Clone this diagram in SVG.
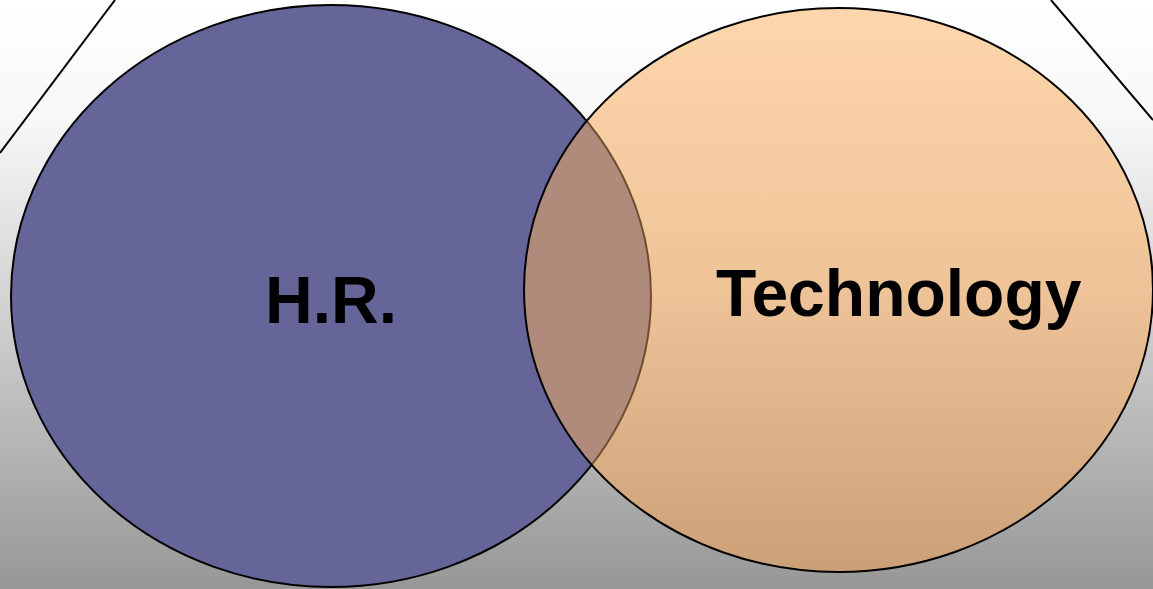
<svg xmlns="http://www.w3.org/2000/svg" width="1153" height="589" viewBox="0 0 1153 589">
  <defs>
    <linearGradient id="bg" x1="0" y1="0" x2="0" y2="1">
      <stop offset="0" stop-color="#ffffff"/>
      <stop offset="0.2" stop-color="#f8f8f8"/>
      <stop offset="0.5" stop-color="#d4d4d4"/>
      <stop offset="1" stop-color="#979797"/>
    </linearGradient>
    <linearGradient id="orange" x1="0" y1="0" x2="0" y2="1">
      <stop offset="0" stop-color="#fed6ab"/>
      <stop offset="0.5" stop-color="#eec398"/>
      <stop offset="1" stop-color="#cca077"/>
    </linearGradient>
    <clipPath id="techClip">
      <ellipse cx="838.5" cy="290" rx="314.5" ry="282"/>
    </clipPath>
    <style>
      .edge { fill: none; stroke: #000; stroke-width: 2; }
      .label { font-family: "Liberation Sans", Arial, sans-serif; font-weight: bold; font-size: 66px; fill: #000; }
    </style>
  </defs>
  <rect x="0" y="0" width="1153" height="589" fill="url(#bg)"/>
  <g id="frame">
    <line class="edge" x1="115" y1="0" x2="0" y2="153"/>
    <line class="edge" x1="1051" y1="0" x2="1153" y2="120"/>
  </g>
  <g id="hr">
    <ellipse cx="331" cy="296" rx="320" ry="291" fill="#65659a" stroke="#000" stroke-width="2"/>
  </g>
  <g id="technology">
    <ellipse cx="838.5" cy="290" rx="314.5" ry="282" fill="url(#orange)"/>
  </g>
  <g id="overlap">
    <ellipse cx="331" cy="296" rx="320" ry="291" fill="#b08a7b" stroke="#6e4e30" stroke-width="2" clip-path="url(#techClip)"/>
  </g>
  <g id="technology-outline">
    <ellipse class="edge" cx="838.5" cy="290" rx="314.5" ry="282"/>
  </g>
  <g id="labels">
    <text class="label" x="265" y="323">H.R.</text>
    <text class="label" x="716" y="316">Technology</text>
  </g>
</svg>
